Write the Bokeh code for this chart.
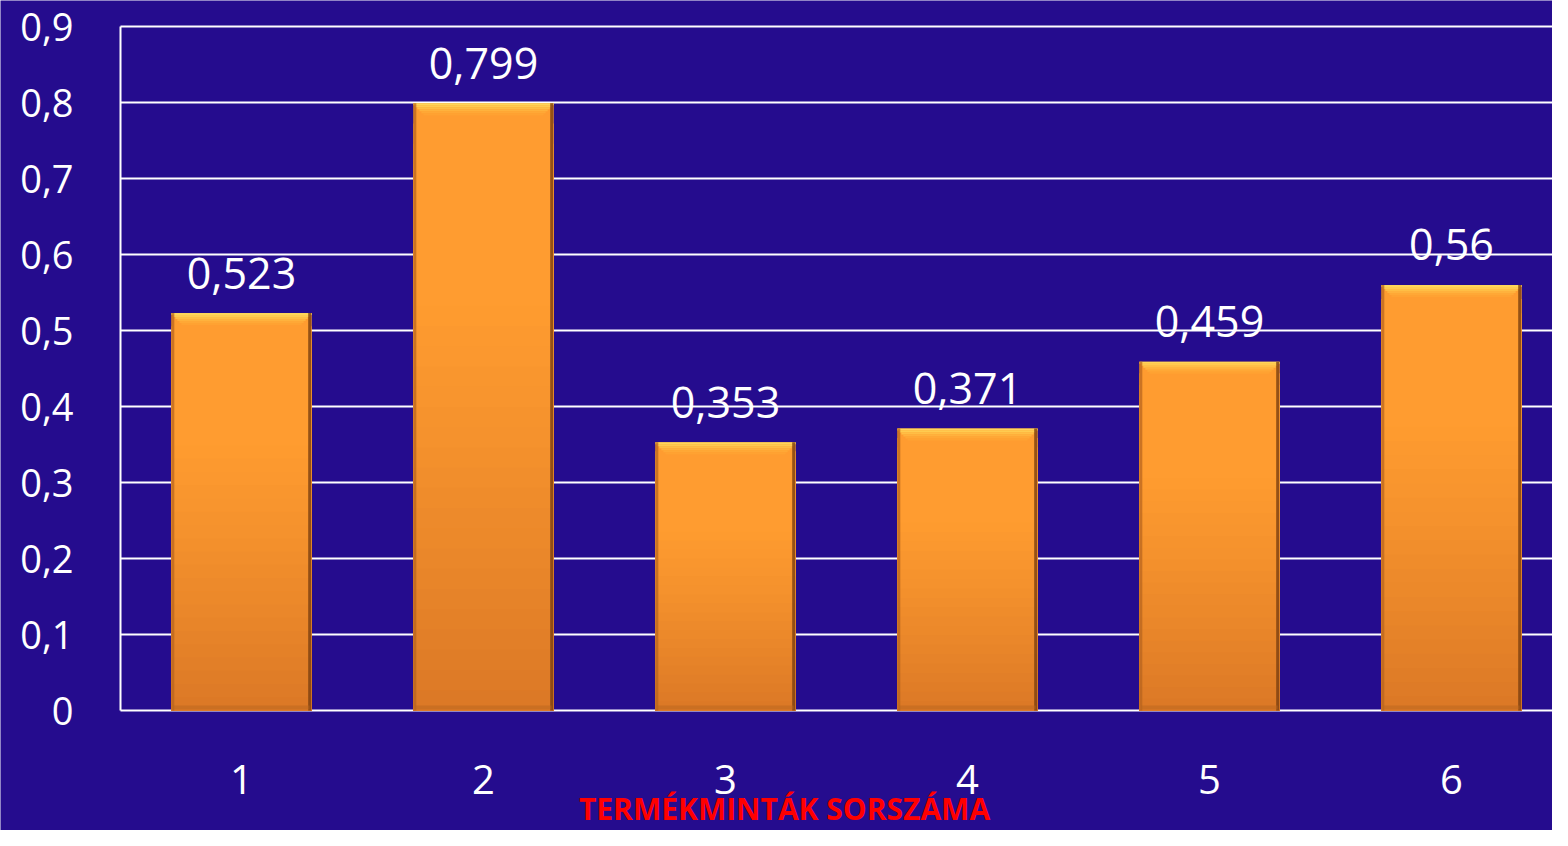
import numpy as np
from bokeh.plotting import figure
from bokeh.models import Range1d, ColumnDataSource
from bokeh.core.properties import value
from bokeh.embed import file_html
from bokeh.resources import INLINE

# ---- data ----
samples = [1, 2, 3, 4, 5, 6]
sample_labels = ["1", "2", "3", "4", "5", "6"]
values = [0.523, 0.799, 0.353, 0.371, 0.459, 0.56]
value_labels = ["0,523", "0,799", "0,353", "0,371", "0,459", "0,56"]
y_ticks = [0, 0.1, 0.2, 0.3, 0.4, 0.5, 0.6, 0.7, 0.8, 0.9]
y_tick_labels = ["0", "0,1", "0,2", "0,3", "0,4", "0,5", "0,6", "0,7", "0,8", "0,9"]
x_title = "TERMÉKMINTÁK SORSZÁMA"

BG = "#250C8E"
FONT = "Open Sans"
BAR_W = 0.58
W, H = 1552, 830
AXIS_X = 120                    # pixel column of the value axis
BAND = 242                      # px per category
PXU = 0.9 / 684                 # data units per pixel on y
ZERO_Y = 710                    # pixel row of value 0
TOP_Y = 26                      # pixel row of value 0.9

x0 = 0.5 - AXIS_X / BAND
x1 = 0.5 + (W - AXIS_X) / BAND
p = figure(width=W, height=H, output_backend="svg", toolbar_location=None,
           x_range=Range1d(x0, x1),
           y_range=Range1d(-(H - ZERO_Y) * PXU, 0.9 + TOP_Y * PXU),
           x_axis_location=None, y_axis_location=None,
           min_border_left=0, min_border_right=0, min_border_top=0,
           min_border_bottom=0)
p.background_fill_color = BG
p.border_fill_color = BG
p.outline_line_color = None
p.xgrid.grid_line_color = None
p.ygrid.grid_line_color = None

# grid lines (from the value axis to the right edge) and the value axis line
p.segment(x0=[0.5] * len(y_ticks), y0=y_ticks, x1=[x1] * len(y_ticks), y1=y_ticks,
          line_color="white", line_width=2)
p.segment(x0=[0.5], y0=[y_ticks[0]], x1=[0.5], y1=[y_ticks[-1]],
          line_color="white", line_width=2)

# y tick labels
ysrc = ColumnDataSource(dict(y=y_ticks, t=y_tick_labels))
p.text(x=0.5 - 47 / BAND, y="y", text="t", source=ysrc, text_color="white",
       text_font=value(FONT), text_font_size="38px", text_align="right",
       text_baseline="middle")

# ---- bars with vertical gradient (overlapping layers, no seams) ----
vals = np.array(values)
xs = np.array(samples, dtype=float)
top_col = np.array([0xFF, 0x9C, 0x30])
bot_col = np.array([0xDA, 0x77, 0x26])
N = 30
for k in range(N, 0, -1):
    f = k / N
    t = 1 - f  # 0 at top, 1 at bottom
    w = max(0.0, (t - 0.3) / 0.7) ** 1.2
    c = (top_col * (1 - w) + bot_col * w).astype(int)
    col = "#%02x%02x%02x" % tuple(c)
    p.vbar(x=xs, width=BAR_W, bottom=0, top=vals * f,
           fill_color=col, line_color=None)

# top bevel (light strip)
bevel_cols = ["#FFD65A", "#FFCB50", "#FFBE45", "#FFB23D", "#FFA836", "#FFA232"]
for i, bc in enumerate(bevel_cols):
    p.vbar(x=xs, width=BAR_W - 4 * i / BAND, top=vals - i * 2 * PXU,
           bottom=vals - (i + 1) * 2 * PXU, fill_color=bc, line_color=None)

# side shading
hw = BAR_W / 2
p.segment(x0=xs + hw - 2 / BAND, y0=vals * 0, x1=xs + hw - 2 / BAND, y1=vals,
          line_color="#7A3F10", line_width=3, line_alpha=0.8)
p.segment(x0=xs - hw + 1.5 / BAND, y0=vals * 0, x1=xs - hw + 1.5 / BAND, y1=vals,
          line_color="#B5631E", line_width=3, line_alpha=0.7)
p.segment(x0=xs - hw + 2 / BAND, y0=vals * 0 + 3 * PXU, x1=xs + hw - 2 / BAND, y1=vals * 0 + 3 * PXU,
          line_color="#B8651E", line_width=4, line_alpha=0.5)

# value labels
src = ColumnDataSource(dict(x=samples, y=values, t=value_labels))
p.text(x="x", y="y", text="t", source=src, text_color="white",
       text_font=value(FONT), text_font_size="43px", text_align="center",
       text_baseline="alphabetic", y_offset=-40)

# category labels and axis title (below the zero line)
cat_src = ColumnDataSource(dict(x=samples, t=sample_labels))
p.text(x="x", y=-(779 - ZERO_Y) * PXU, text="t", source=cat_src, text_color="white",
       text_font=value(FONT), text_font_size="40px", text_align="center",
       text_baseline="middle")
p.text(x=[0.5 + (784 - AXIS_X) / BAND], y=[-(808 - ZERO_Y) * PXU], text=[x_title],
       text_color="#FF0000", text_font=value(FONT), text_font_style="bold",
       text_font_size="30px", text_align="center", text_baseline="middle")

open("out.html", "w").write(file_html(p, INLINE))
